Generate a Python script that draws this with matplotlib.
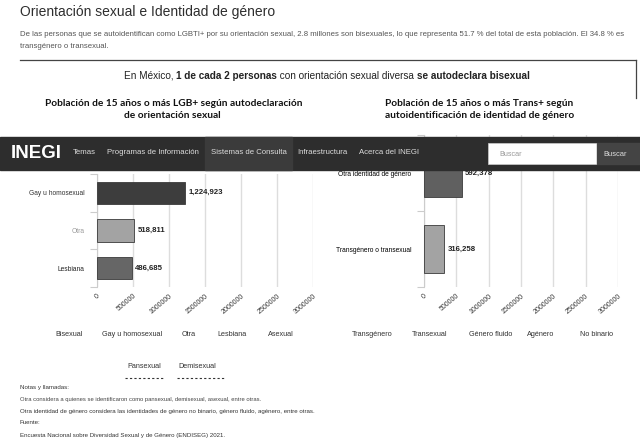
import matplotlib
matplotlib.use("Agg")
import matplotlib.pyplot as plt
from matplotlib.patches import Rectangle

plt.rcParams['font.family'] = ['Liberation Sans', 'DejaVu Sans']

# datos: población LGB+ según orientación sexual
lgb_cats = ["Gay u homosexual", "Otra", "Lesbiana"]
lgb_vals = [1224923, 518811, 486685]
lgb_colors = ["#3d3d3d", "#a3a3a3", "#666666"]
lgb_lblcol = ["#333333", "#999999", "#222222"]

# datos: población Trans+ según identidad de género
trans_cats = ["Otra identidad de género", "Transgénero o transexual"]
trans_vals = [592378, 316258]
trans_colors = ["#606060", "#a3a3a3"]

xticks = [0, 500000, 1000000, 1500000, 2000000, 2500000, 3000000]

leyenda_izq = ["Bisexual", "Gay u homosexual", "Otra", "Lesbiana", "Asexual"]
leyenda_izq_x = [55, 102, 182, 217, 268]
leyenda_izq2 = ["Pansexual", "Demisexual"]
leyenda_izq2_x = [127, 178]
leyenda_der = ["Transgénero", "Transexual", "Género fluido", "Agénero", "No binario"]
leyenda_der_x = [352, 412, 469, 527, 580]

menu = ["Temas", "Programas de Información", "Sistemas de Consulta",
        "Infraestructura", "Acerca del INEGI"]
menu_x = [73, 107, 211, 297, 359]

W, H = 640, 446
fig = plt.figure(figsize=(6.4, 4.46), dpi=100)
fig.patch.set_facecolor("white")


def px_axes(x0, y0, x1, y1, **kw):
    # ejes en coordenadas de pixel (y desde arriba)
    return fig.add_axes([x0 / W, 1 - y1 / H, (x1 - x0) / W, (y1 - y0) / H], **kw)


bg = px_axes(0, 0, W, H)
bg.set_xlim(0, W)
bg.set_ylim(H, 0)
bg.axis("off")

bg.text(20, 12, "Orientación sexual e Identidad de género", fontsize=10.0,
        color="#2e2e2e", va="center", ha="left")
bg.text(20, 34, "De las personas que se autoidentifican como LGBTI+ por su orientación sexual, "
        "2.8 millones son bisexuales, lo que representa 51.7 % del total de esta población. El 34.8 % es",
        fontsize=5.55, color="#555555", va="center")
bg.text(20, 46, "transgénero o transexual.", fontsize=5.55, color="#555555", va="center")
bg.plot([20, 636], [60, 60], color="#444444", lw=0.9)
bg.plot([636, 636], [60, 98], color="#444444", lw=0.9)

# subtitulo con partes en negrita
partes = [("En México, ", "normal"), ("1 de cada 2 personas", "bold"),
          (" con orientación sexual diversa ", "normal"), ("se autodeclara bisexual", "bold")]
prev = bg.text(124, 76, partes[0][0], fontsize=7.2, color="#222222", va="center",
               fontweight=partes[0][1])
for txt, w in partes[1:]:
    prev = bg.annotate(txt, xy=(1, 0), xycoords=prev, va="bottom", ha="left",
                       fontsize=7.2, color="#222222", fontweight=w)

tit_font = dict(fontsize=7.3, family=["Lato", "DejaVu Sans"], fontweight="bold",
                ha="center", va="center", color="#111111")
bg.text(174, 104, "Población de 15 años o más LGB+ según autodeclaración", **tit_font)
bg.text(172, 116, "de orientación sexual", **tit_font)
bg.text(479, 104, "Población de 15 años o más Trans+ según", **tit_font)
bg.text(480, 116, "autoidentificación de identidad de género", **tit_font)

# leyendas
for t, x in zip(leyenda_izq, leyenda_izq_x):
    bg.text(x, 335, t, fontsize=5.2, color="#333333", va="center")
for t, x in zip(leyenda_der, leyenda_der_x):
    bg.text(x, 335, t, fontsize=5.2, color="#333333", va="center")
for t, x in zip(leyenda_izq2, leyenda_izq2_x):
    bg.text(x, 366, t, fontsize=5.2, color="#333333", va="center")
bg.plot([125, 164], [378, 378], color="#333333", lw=0.8, ls=(0, (2, 2)))
bg.plot([177, 225], [378, 378], color="#333333", lw=0.8, ls=(0, (2, 2)))

# notas
bg.text(20, 387, "Notas y llamadas:", fontsize=4.4, color="#333333", va="center")
bg.text(20, 399, "Otra considera a quienes se identificaron como pansexual, demisexual, asexual, entre otras.",
        fontsize=4.2, color="#444444", va="center")
bg.text(20, 411, "Otra identidad de género considera las identidades de género no binario, género fluido, agénero, entre otras.",
        fontsize=4.4, color="#333333", va="center")
bg.text(20, 423, "Fuente:", fontsize=4.4, color="#333333", va="center")
bg.text(20, 435, "Encuesta Nacional sobre Diversidad Sexual y de Género (ENDISEG) 2021.",
        fontsize=4.4, color="#333333", va="center")


def barras(ax, cats, vals, colors, height, lblcols=None):
    y = list(range(len(cats)))
    ax.barh(y, vals, height=height, color=colors, edgecolor="#3a3a3a", linewidth=0.6, zorder=3)
    ax.set_xlim(0, 3000000)
    ax.set_ylim(len(cats) - 0.5, -0.5)
    ax.set_yticks(y)
    ax.set_yticklabels(cats, fontsize=4.8)
    if lblcols:
        for lab, c in zip(ax.get_yticklabels(), lblcols):
            lab.set_color(c)
    ax.set_yticks([i - 0.5 for i in range(len(cats) + 1)], minor=True)
    ax.tick_params(axis="y", which="major", length=0, pad=9)
    ax.tick_params(axis="y", which="minor", length=5, color="#cccccc", width=0.8)
    ax.set_xticks(xticks)
    ax.set_xticklabels([str(v) for v in xticks], fontsize=5.0, rotation=40, ha="right",
                       rotation_mode="anchor", color="#333333")
    ax.tick_params(axis="x", length=0, pad=4)
    ax.grid(axis="x", color="#dddddd", lw=1.0, zorder=0)
    for s in ["top", "right", "bottom"]:
        ax.spines[s].set_visible(False)
    ax.spines["left"].set_color("#cccccc")
    ax.spines["left"].set_linewidth(0.8)
    for i, v in enumerate(vals):
        ax.text(v + 45000, i, f"{v:,}", fontsize=5.6, fontweight="bold", color="#222222",
                va="center", ha="left", zorder=4)


ax1 = px_axes(97, 174, 313, 287)
barras(ax1, lgb_cats, lgb_vals, lgb_colors, 0.6, lgb_lblcol)
ax2 = px_axes(424, 135, 618, 287)
barras(ax2, trans_cats, trans_vals, trans_colors, 0.62)

# barra de navegacion encima de todo
nav = px_axes(0, 0, W, H)
nav.set_xlim(0, W)
nav.set_ylim(H, 0)
nav.axis("off")
nav.add_patch(Rectangle((0, 137), 640, 33, color="#2d2d2d", zorder=1))
nav.add_patch(Rectangle((205, 137), 87, 33, color="#3b3b3b", zorder=2))
nav.add_patch(Rectangle((488, 143), 109, 21, facecolor="white", edgecolor="#cccccc", lw=0.5, zorder=2))
nav.add_patch(Rectangle((597, 143), 43, 21, color="#444444", zorder=2))
nav.text(11, 153, "INEGI", fontsize=13.5, fontweight="bold", color="white", va="center", zorder=3)
for t, x in zip(menu, menu_x):
    nav.text(x, 153, t, fontsize=5.6, color="#dddddd", va="center", zorder=3)
nav.text(499, 154, "Buscar", fontsize=5.2, color="#999999", va="center", zorder=3)
nav.text(603, 154, "Buscar", fontsize=5.4, color="#dddddd", va="center", zorder=3)

fig.savefig("out.png", dpi=100)
